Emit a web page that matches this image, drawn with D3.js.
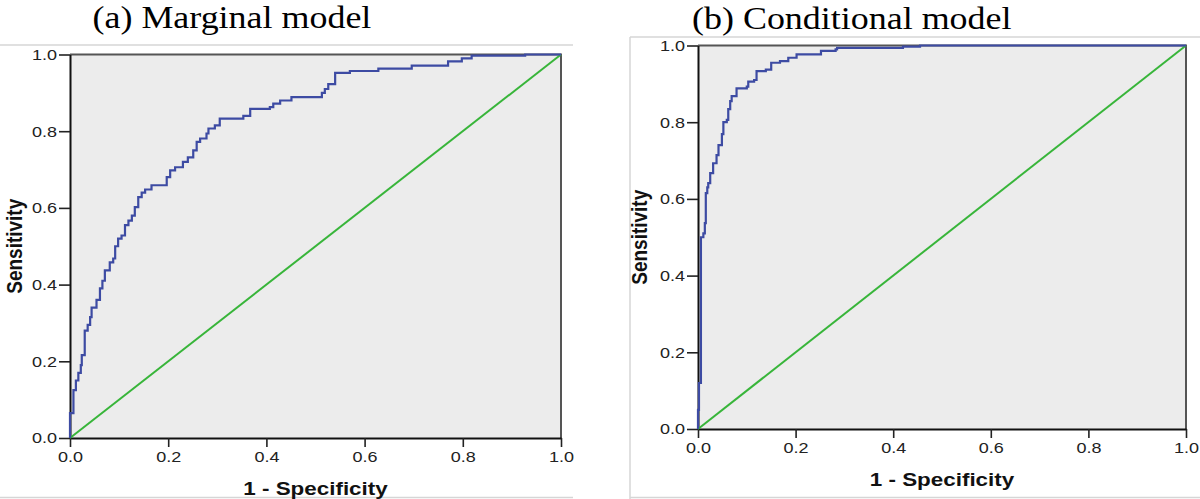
<!DOCTYPE html>
<html>
<head>
<meta charset="utf-8">
<script src="https://cdn.jsdelivr.net/npm/d3@7"></script>
<style>
  html, body { margin: 0; padding: 0; background: #fff; }
  svg { display: block; }
</style>
</head>
<body>
<svg id="chart" width="1200" height="499"></svg>
<script>
// ---------------- data ----------------
const panelTitles = ["(a) Marginal model", "(b) Conditional model"];
const xAxisTitle = "1 - Specificity";
const yAxisTitle = "Sensitivity";
const tickValues = [0, 0.2, 0.4, 0.6, 0.8, 1.0];

// Marginal model ROC (1 - specificity, sensitivity)
const marginalFpr = [0, 0.000, 0.007, 0.012, 0.017, 0.022, 0.024, 0.030, 0.036, 0.041, 0.044, 0.054, 0.061, 0.066, 0.071, 0.081, 0.088, 0.092, 0.098, 0.105, 0.112, 0.119, 0.126, 0.132, 0.139, 0.146, 0.153, 0.166, 0.197, 0.204, 0.214, 0.230, 0.240, 0.251, 0.258, 0.265, 0.278, 0.282, 0.295, 0.305, 0.353, 0.367, 0.407, 0.414, 0.428, 0.451, 0.513, 0.519, 0.526, 0.540, 0.570, 0.628, 0.696, 0.770, 0.798, 0.818, 0.927, 1.0];
const marginalTpr = [0, 0.065, 0.125, 0.150, 0.170, 0.190, 0.216, 0.280, 0.295, 0.315, 0.340, 0.360, 0.390, 0.410, 0.437, 0.458, 0.468, 0.500, 0.520, 0.528, 0.555, 0.567, 0.580, 0.602, 0.628, 0.640, 0.648, 0.659, 0.680, 0.698, 0.706, 0.720, 0.732, 0.750, 0.772, 0.781, 0.794, 0.807, 0.815, 0.833, 0.840, 0.858, 0.863, 0.872, 0.880, 0.889, 0.900, 0.910, 0.923, 0.952, 0.957, 0.963, 0.971, 0.982, 0.990, 0.997, 1.0, 1.0];

// Conditional model ROC
const conditionalFpr = [0, 0.000, 0.002, 0.006, 0.011, 0.014, 0.016, 0.019, 0.021, 0.025, 0.031, 0.038, 0.042, 0.049, 0.052, 0.059, 0.062, 0.066, 0.069, 0.079, 0.100, 0.103, 0.115, 0.120, 0.139, 0.150, 0.168, 0.185, 0.202, 0.252, 0.282, 0.285, 0.420, 0.455, 1.0];
const conditionalTpr = [0, 0.050, 0.120, 0.500, 0.510, 0.537, 0.615, 0.630, 0.641, 0.667, 0.693, 0.714, 0.740, 0.769, 0.800, 0.806, 0.834, 0.855, 0.868, 0.888, 0.893, 0.906, 0.910, 0.933, 0.937, 0.955, 0.959, 0.968, 0.977, 0.986, 0.990, 0.994, 0.997, 1.0, 1.0];

// reference (chance) line
const refFpr = [0, 1];
const refTpr = [0, 1];

// ---------------- layout ----------------
const panels = [
  { title: panelTitles[0], fpr: marginalFpr, tpr: marginalTpr,
    x0: 70, x1: 561, yBottom: 438, yTop: 54.5,
    titleX: 92.5, titleY: 28,
    yTitleX: 22, xTitleY: 495 },
  { title: panelTitles[1], fpr: conditionalFpr, tpr: conditionalTpr,
    x0: 698, x1: 1186, yBottom: 429, yTop: 45.5,
    titleX: 692, titleY: 28.5,
    yTitleX: 647, xTitleY: 486 }
];

const svg = d3.select("#chart");
svg.append("rect").attr("width", 1200).attr("height", 499).attr("fill", "#fff");

// light panel borders
const border = "#d6d6d6";
svg.append("line").attr("x1", 0).attr("x2", 573).attr("y1", 45).attr("y2", 45).attr("stroke", border).attr("stroke-width", 1.5);
svg.append("line").attr("x1", 0).attr("x2", 573).attr("y1", 497.5).attr("y2", 497.5).attr("stroke", border).attr("stroke-width", 1.5);
svg.append("line").attr("x1", 630).attr("x2", 1200).attr("y1", 37).attr("y2", 37).attr("stroke", border).attr("stroke-width", 1.5);
svg.append("line").attr("x1", 630).attr("x2", 630).attr("y1", 37).attr("y2", 499).attr("stroke", border).attr("stroke-width", 1.5);
svg.append("line").attr("x1", 630).attr("x2", 1200).attr("y1", 497.5).attr("y2", 497.5).attr("stroke", border).attr("stroke-width", 1.5);

const SX = 1.2; // horizontal stretch of the original raster text

panels.forEach(p => {
  const x = d3.scaleLinear().domain([0, 1]).range([p.x0, p.x1]);
  const y = d3.scaleLinear().domain([0, 1]).range([p.yBottom, p.yTop]);
  const g = svg.append("g");

  // title
  g.append("text")
    .attr("transform", `translate(${p.titleX},${p.titleY}) scale(1.16,1)`)
    .attr("font-family", "'Liberation Serif', 'Times New Roman', serif")
    .attr("font-size", 31)
    .attr("fill", "#000")
    .text(p.title);

  // plot background
  g.append("rect")
    .attr("x", x(0)).attr("y", y(1))
    .attr("width", x(1) - x(0)).attr("height", y(0) - y(1))
    .attr("fill", "#ececec");

  // top and right frame
  g.append("path")
    .attr("d", `M${x(0)},${y(1)}H${x(1)}V${y(0)}`)
    .attr("fill", "none").attr("stroke", "#555").attr("stroke-width", 2);

  // axes
  const xAxis = d3.axisBottom(x).tickValues(tickValues).tickFormat(d3.format(".1f"))
    .tickSize(9).tickSizeOuter(0).tickPadding(4);
  const yAxis = d3.axisLeft(y).tickValues(tickValues).tickFormat(d3.format(".1f"))
    .tickSize(11).tickSizeOuter(0).tickPadding(2);

  const gx = g.append("g").attr("transform", `translate(0,${y(0)})`).call(xAxis);
  const gy = g.append("g").attr("transform", `translate(${x(0)},0)`).call(yAxis);
  [gx, gy].forEach(ax => {
    ax.select(".domain").attr("stroke", "#111").attr("stroke-width", 2);
    ax.selectAll(".tick line").attr("stroke", "#222").attr("stroke-width", 1.6);
    ax.selectAll(".tick text")
      .attr("font-family", "'Liberation Sans', Arial, sans-serif")
      .attr("font-size", 15)
      .attr("fill", "#222");
  });
  gx.selectAll(".tick text").attr("transform", `scale(${SX},1)`);
  gy.selectAll(".tick text").attr("x", -13 / SX).attr("transform", `scale(${SX},1)`);

  // curves
  const line = d3.line().x(d => x(d[0])).y(d => y(d[1]));
  g.append("path")
    .datum(refFpr.map((v, i) => [v, refTpr[i]]))
    .attr("d", line)
    .attr("fill", "none").attr("stroke", "#38b53a").attr("stroke-width", 2);
  g.append("path")
    .datum(p.fpr.map((v, i) => [v, p.tpr[i]]))
    .attr("d", line.curve(d3.curveStepAfter))
    .attr("fill", "none").attr("stroke", "#3d4ba3").attr("stroke-width", 2.2)
    .attr("stroke-linejoin", "miter");

  // axis titles
  g.append("text")
    .attr("transform", `translate(${(x(0) + x(1)) / 2},${p.xTitleY}) scale(1.18,1)`)
    .attr("text-anchor", "middle")
    .attr("font-family", "'Liberation Sans', Arial, sans-serif")
    .attr("font-weight", "bold").attr("font-size", 19).attr("fill", "#111")
    .text(xAxisTitle);
  g.append("text")
    .attr("transform", `translate(${p.yTitleX},${(y(0) + y(1)) / 2}) rotate(-90) scale(1,${SX})`)
    .attr("text-anchor", "middle")
    .attr("font-family", "'Liberation Sans', Arial, sans-serif")
    .attr("font-weight", "bold").attr("font-size", 19).attr("fill", "#111")
    .text(yAxisTitle);
});
</script>
</body>
</html>
